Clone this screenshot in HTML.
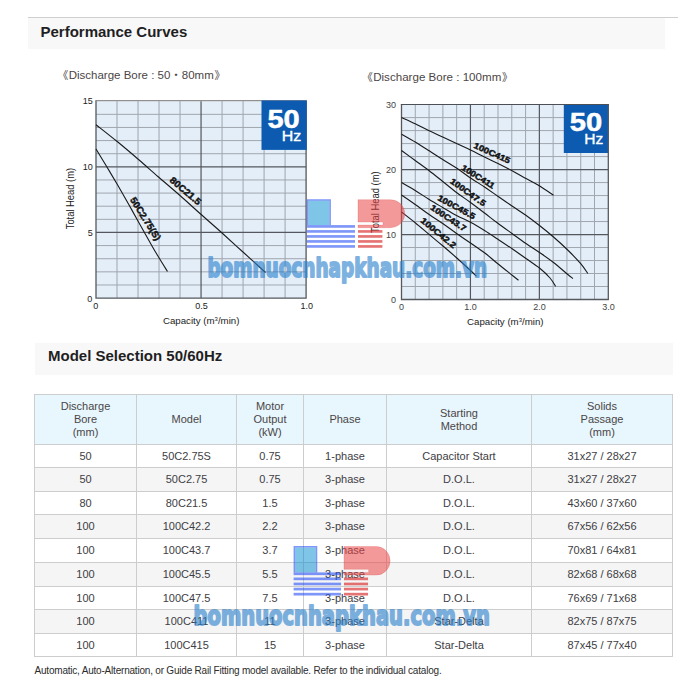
<!DOCTYPE html>
<html lang="en">
<head>
<meta charset="utf-8">
<title>Performance Curves</title>
<style>
html,body{margin:0;padding:0;background:#fff;}
body{width:700px;height:700px;position:relative;overflow:hidden;font-family:"Liberation Sans",Arial,sans-serif;color:#444;}
.rule{position:absolute;left:28px;top:17px;width:650px;height:1px;background:#cfcfcf;}
h2{position:absolute;margin:0;background:#f8f8f8;font-size:15px;font-weight:bold;color:#1f1f24;white-space:nowrap;box-sizing:border-box;}
h2.h1{left:28px;top:18px;width:637px;height:31px;padding:5px 0 0 13px;line-height:17px;text-indent:-0.5px;}
h2.h2{left:35px;top:343px;width:638px;height:32px;padding:4px 0 0 13px;line-height:17px;}
svg.charts{position:absolute;left:0;top:0;}
svg.wm{position:absolute;left:0;top:0;pointer-events:none;}
table.spec{position:absolute;left:34px;top:394px;border-collapse:collapse;table-layout:fixed;width:639px;font-size:11px;line-height:13px;color:#404044;}
table.spec th,table.spec td{border:1px solid #cdcdcd;padding:0;text-align:center;vertical-align:middle;font-weight:normal;}
table.spec th{background:#e8f6fe;color:#4a4646;}
table.spec tr.alt td{background:#f5f5f5;}
p.note{position:absolute;left:34.5px;top:664px;margin:0;font-size:10px;letter-spacing:-0.205px;line-height:14px;color:#2c2c2c;white-space:nowrap;}
</style>
</head>
<body>
<div class="rule"></div>
<h2 class="h1">Performance Curves</h2>
<svg class="charts" width="700" height="340" viewBox="0 0 700 340" font-family="'Liberation Sans',sans-serif">
<text x="68.40" y="78.80" font-size="10.8" fill="#4b4545" text-anchor="end" font-family="'Liberation Sans','Noto Sans CJK JP',sans-serif">《</text>
<text x="68.70" y="78.80" font-size="10.8" fill="#4b4545" font-family="'Liberation Sans','Noto Sans CJK JP',sans-serif" textLength="145.1" lengthAdjust="spacingAndGlyphs">Discharge Bore : 50・80mm</text>
<text x="214.60" y="78.80" font-size="10.8" fill="#4b4545" font-family="'Liberation Sans','Noto Sans CJK JP',sans-serif">》</text>
<text x="372.90" y="80.80" font-size="10.8" fill="#4b4545" text-anchor="end" font-family="'Liberation Sans','Noto Sans CJK JP',sans-serif">《</text>
<text x="373.20" y="80.80" font-size="10.8" fill="#4b4545" font-family="'Liberation Sans','Noto Sans CJK JP',sans-serif" textLength="128.1" lengthAdjust="spacingAndGlyphs">Discharge Bore : 100mm</text>
<text x="502.10" y="80.80" font-size="10.8" fill="#4b4545" font-family="'Liberation Sans','Noto Sans CJK JP',sans-serif">》</text>
<rect x="96.00" y="101.20" width="210.10" height="196.90" fill="#e4eef8"/>
<path d="M117.01 101.20V298.10M138.02 101.20V298.10M159.03 101.20V298.10M180.04 101.20V298.10M222.06 101.20V298.10M243.07 101.20V298.10M264.08 101.20V298.10M285.09 101.20V298.10" stroke="#878d96" stroke-width="0.75" fill="none"/>
<path d="M96.00 114.33H306.10M96.00 127.45H306.10M96.00 140.58H306.10M96.00 153.71H306.10M96.00 179.96H306.10M96.00 193.09H306.10M96.00 206.21H306.10M96.00 219.34H306.10M96.00 245.59H306.10M96.00 258.72H306.10M96.00 271.85H306.10M96.00 284.97H306.10" stroke="#a0a6ae" stroke-width="1" fill="none"/>
<path d="M201.05 101.20V298.10M96.00 166.83H306.10M96.00 232.47H306.10" stroke="#54585e" stroke-width="1.2" fill="none"/>
<path d="M96.00 100.70V298.10H306.10V100.70" fill="none" stroke="#55595e" stroke-width="1.3"/><path d="M95.35 100.70H306.75" fill="none" stroke="#7a7877" stroke-width="1.00"/>
<rect x="261.50" y="100.50" width="45.30" height="49.40" fill="#0d5bb0"/>
<text x="267.50" y="127.80" font-size="25" font-weight="bold" fill="#fff" stroke="#fff" stroke-width="0.5" textLength="32.2" lengthAdjust="spacingAndGlyphs">50</text>
<text x="281.80" y="141.20" font-size="14.2" fill="#fff" stroke="#fff" stroke-width="0.35" textLength="19.5" lengthAdjust="spacingAndGlyphs">Hz</text>
<path d="M96.00 124.70 C99.58 127.55 110.42 136.00 117.50 141.80 C124.58 147.60 131.67 153.63 138.50 159.50 C145.33 165.37 151.58 171.00 158.50 177.00 C165.42 183.00 173.08 189.42 180.00 195.50 C186.92 201.58 193.08 207.33 200.00 213.50 C206.92 219.67 214.25 226.00 221.50 232.50 C228.75 239.00 236.17 245.83 243.50 252.50 C250.83 259.17 261.83 269.17 265.50 272.50" stroke="#1a1a1a" stroke-width="1.1" fill="none"/>
<path d="M96.00 149.00 C97.80 151.97 103.22 160.83 106.80 166.80 C110.38 172.77 113.88 178.60 117.50 184.80 C121.12 191.00 125.00 197.80 128.50 204.00 C132.00 210.20 134.58 215.00 138.50 222.00 C142.42 229.00 148.67 240.17 152.00 246.00 C155.33 251.83 155.92 252.75 158.50 257.00 C161.08 261.25 166.00 269.08 167.50 271.50" stroke="#1a1a1a" stroke-width="1.1" fill="none"/>
<text transform="translate(169.00 181.30) rotate(40.0)" font-size="9.4" font-weight="bold" textLength="37.6" lengthAdjust="spacingAndGlyphs" fill="#111" stroke="#111" stroke-width="0.45">80C21.5</text>
<text transform="translate(129.70 199.80) rotate(57.7)" font-size="9.4" font-weight="bold" textLength="49.1" lengthAdjust="spacingAndGlyphs" fill="#111" stroke="#111" stroke-width="0.45">50C2.75(S)</text>
<text x="92.80" y="104.40" font-size="9" text-anchor="end" fill="#222">15</text>
<text x="92.80" y="170.20" font-size="9" text-anchor="end" fill="#222">10</text>
<text x="92.80" y="236.20" font-size="9" text-anchor="end" fill="#222">5</text>
<text x="92.30" y="302.20" font-size="9" text-anchor="end" fill="#222">0</text>
<text x="95.80" y="309.30" font-size="9" text-anchor="middle" fill="#222">0</text>
<text x="201.40" y="309.30" font-size="9" text-anchor="middle" fill="#222">0.5</text>
<text x="306.80" y="309.30" font-size="9" text-anchor="middle" fill="#222">1.0</text>
<text x="162.9" y="324" font-size="9.7" fill="#222">Capacity (m<tspan font-size="6" dy="-3.3">3</tspan><tspan dy="3.3">/min)</tspan></text>
<text transform="translate(74.4 229.3) rotate(-90)" font-size="10.3" fill="#222" textLength="61.4" lengthAdjust="spacingAndGlyphs">Total Head (m)</text>
<rect x="401.50" y="104.60" width="206.80" height="194.90" fill="#e4eef8"/>
<path d="M415.29 104.60V299.50M429.07 104.60V299.50M442.86 104.60V299.50M456.65 104.60V299.50M484.22 104.60V299.50M498.01 104.60V299.50M511.79 104.60V299.50M525.58 104.60V299.50M553.15 104.60V299.50M566.94 104.60V299.50M580.73 104.60V299.50M594.51 104.60V299.50" stroke="#878d96" stroke-width="0.75" fill="none"/>
<path d="M401.50 117.59H608.30M401.50 130.59H608.30M401.50 143.58H608.30M401.50 156.57H608.30M401.50 182.56H608.30M401.50 195.55H608.30M401.50 208.55H608.30M401.50 221.54H608.30M401.50 247.53H608.30M401.50 260.52H608.30M401.50 273.51H608.30M401.50 286.51H608.30" stroke="#a0a6ae" stroke-width="1" fill="none"/>
<path d="M470.43 104.60V299.50M539.37 104.60V299.50M401.50 169.57H608.30M401.50 234.53H608.30" stroke="#54585e" stroke-width="1.2" fill="none"/>
<rect x="563.80" y="104.10" width="44.80" height="48.90" fill="#0d5bb0"/>
<text x="569.80" y="130.80" font-size="25" font-weight="bold" fill="#fff" stroke="#fff" stroke-width="0.5" textLength="32.4" lengthAdjust="spacingAndGlyphs">50</text>
<text x="584.20" y="144.00" font-size="14.2" fill="#fff" stroke="#fff" stroke-width="0.35" textLength="19.0" lengthAdjust="spacingAndGlyphs">Hz</text>
<path d="M401.50 104.50V299.50H608.30V104.50" fill="none" stroke="#55595e" stroke-width="1.3"/><path d="M400.85 104.50H608.95" fill="none" stroke="#4c4f54" stroke-width="1.00"/>
<path d="M401.50 117.50 C403.78 118.55 410.58 121.58 415.20 123.80 C419.82 126.02 424.62 128.60 429.20 130.80 C433.78 133.00 438.15 134.88 442.70 137.00 C447.25 139.12 451.87 141.33 456.50 143.50 C461.13 145.67 465.83 147.75 470.50 150.00 C475.17 152.25 479.92 154.75 484.50 157.00 C489.08 159.25 493.33 161.17 498.00 163.50 C502.67 165.83 507.83 168.50 512.50 171.00 C517.17 173.50 521.53 176.03 526.00 178.50 C530.47 180.97 534.72 183.00 539.30 185.80 C543.88 188.60 551.13 193.72 553.50 195.30" stroke="#1a1a1a" stroke-width="1.1" fill="none"/>
<path d="M401.50 134.20 C403.78 135.50 410.58 139.23 415.20 142.00 C419.82 144.77 424.62 147.88 429.20 150.80 C433.78 153.72 438.15 156.63 442.70 159.50 C447.25 162.37 451.87 164.92 456.50 168.00 C461.13 171.08 465.83 174.83 470.50 178.00 C475.17 181.17 480.00 184.00 484.50 187.00 C489.00 190.00 492.92 192.83 497.50 196.00 C502.08 199.17 507.33 202.83 512.00 206.00 C516.67 209.17 520.92 211.75 525.50 215.00 C530.08 218.25 534.83 221.83 539.50 225.50 C544.17 229.17 548.88 233.00 553.50 237.00 C558.12 241.00 562.67 245.05 567.20 249.50 C571.73 253.95 577.27 259.70 580.70 263.70 C584.13 267.70 586.62 271.87 587.80 273.50" stroke="#1a1a1a" stroke-width="1.1" fill="none"/>
<path d="M401.50 150.50 C403.78 152.17 410.58 157.12 415.20 160.50 C419.82 163.88 424.62 167.30 429.20 170.80 C433.78 174.30 438.15 177.88 442.70 181.50 C447.25 185.12 451.87 189.00 456.50 192.50 C461.13 196.00 465.83 199.08 470.50 202.50 C475.17 205.92 480.00 209.58 484.50 213.00 C489.00 216.42 492.92 219.58 497.50 223.00 C502.08 226.42 507.25 230.08 512.00 233.50 C516.75 236.92 521.42 240.33 526.00 243.50 C530.58 246.67 534.92 249.33 539.50 252.50 C544.08 255.67 548.88 258.92 553.50 262.50 C558.12 266.08 563.95 271.33 567.20 274.00 C570.45 276.67 572.03 277.75 573.00 278.50" stroke="#1a1a1a" stroke-width="1.1" fill="none"/>
<path d="M401.50 182.50 C403.78 183.83 410.58 187.67 415.20 190.50 C419.82 193.33 424.62 196.67 429.20 199.50 C433.78 202.33 438.15 204.83 442.70 207.50 C447.25 210.17 451.87 213.03 456.50 215.50 C461.13 217.97 465.83 219.80 470.50 222.30 C475.17 224.80 480.00 227.72 484.50 230.50 C489.00 233.28 492.83 235.92 497.50 239.00 C502.17 242.08 507.75 245.75 512.50 249.00 C517.25 252.25 521.50 255.33 526.00 258.50 C530.50 261.67 535.50 264.75 539.50 268.00 C543.50 271.25 547.32 274.93 550.00 278.00 C552.68 281.07 554.67 285.00 555.60 286.40" stroke="#1a1a1a" stroke-width="1.1" fill="none"/>
<path d="M401.50 195.00 C403.78 196.58 410.58 201.25 415.20 204.50 C419.82 207.75 424.62 211.33 429.20 214.50 C433.78 217.67 438.13 220.33 442.70 223.50 C447.27 226.67 451.97 230.25 456.60 233.50 C461.23 236.75 465.85 239.80 470.50 243.00 C475.15 246.20 480.00 249.28 484.50 252.70 C489.00 256.12 492.83 259.70 497.50 263.50 C502.17 267.30 509.00 272.70 512.50 275.50 C516.00 278.30 517.50 279.50 518.50 280.30" stroke="#1a1a1a" stroke-width="1.1" fill="none"/>
<path d="M401.50 212.00 C403.78 213.80 410.55 219.02 415.20 222.80 C419.85 226.58 424.77 230.83 429.40 234.70 C434.03 238.57 438.43 242.12 443.00 246.00 C447.57 249.88 452.22 253.92 456.80 258.00 C461.38 262.08 467.22 267.47 470.50 270.50 C473.78 273.53 475.50 275.25 476.50 276.20" stroke="#1a1a1a" stroke-width="1.1" fill="none"/>
<text transform="translate(473.00 147.50) rotate(24.3)" font-size="8.3" font-weight="bold" textLength="39.2" lengthAdjust="spacingAndGlyphs" fill="#111" stroke="#111" stroke-width="0.45">100C415</text>
<text transform="translate(460.80 169.20) rotate(32.0)" font-size="8.3" font-weight="bold" textLength="37.4" lengthAdjust="spacingAndGlyphs" fill="#111" stroke="#111" stroke-width="0.45">100C411</text>
<text transform="translate(449.50 182.50) rotate(35.6)" font-size="8.3" font-weight="bold" textLength="41.5" lengthAdjust="spacingAndGlyphs" fill="#111" stroke="#111" stroke-width="0.45">100C47.5</text>
<text transform="translate(436.90 199.70) rotate(28.4)" font-size="8.3" font-weight="bold" textLength="41.6" lengthAdjust="spacingAndGlyphs" fill="#111" stroke="#111" stroke-width="0.45">100C45.5</text>
<text transform="translate(429.80 209.00) rotate(33.5)" font-size="8.3" font-weight="bold" textLength="40.9" lengthAdjust="spacingAndGlyphs" fill="#111" stroke="#111" stroke-width="0.45">100C43.7</text>
<text transform="translate(420.00 221.50) rotate(39.3)" font-size="8.3" font-weight="bold" textLength="42.9" lengthAdjust="spacingAndGlyphs" fill="#111" stroke="#111" stroke-width="0.45">100C42.2</text>
<text x="396.00" y="107.60" font-size="9" text-anchor="end" fill="#444">30</text>
<text x="396.00" y="172.90" font-size="9" text-anchor="end" fill="#444">20</text>
<text x="396.00" y="238.00" font-size="9" text-anchor="end" fill="#444">10</text>
<text x="396.00" y="303.00" font-size="9" text-anchor="end" fill="#444">0</text>
<text x="401.40" y="310.30" font-size="9" text-anchor="middle" fill="#444">0</text>
<text x="470.40" y="310.30" font-size="9" text-anchor="middle" fill="#444">1.0</text>
<text x="539.40" y="310.30" font-size="9" text-anchor="middle" fill="#444">2.0</text>
<text x="608.40" y="310.30" font-size="9" text-anchor="middle" fill="#444">3.0</text>
<text x="467" y="325" font-size="9.7" fill="#222">Capacity (m<tspan font-size="6" dy="-3.3">3</tspan><tspan dy="3.3">/min)</tspan></text>
<text transform="translate(378.6 232.9) rotate(-90)" font-size="10.3" fill="#222" textLength="61.5" lengthAdjust="spacingAndGlyphs">Total Head (m)</text>
</svg>
<h2 class="h2">Model Selection 50/60Hz</h2>
<table class="spec"><colgroup><col style="width:102px"><col style="width:100px"><col style="width:67px"><col style="width:83px"><col style="width:145px"><col style="width:141px"></colgroup>
<thead><tr style="height:50px"><th>Discharge<br>Bore<br>(mm)</th><th>Model</th><th>Motor<br>Output<br>(kW)</th><th>Phase</th><th>Starting<br>Method</th><th>Solids<br>Passage<br>(mm)</th></tr></thead><tbody>
<tr style="height:23px"><td>50</td><td>50C2.75S</td><td>0.75</td><td>1-phase</td><td>Capacitor Start</td><td>31x27 / 28x27</td></tr>
<tr style="height:24px" class="alt"><td>50</td><td>50C2.75</td><td>0.75</td><td>3-phase</td><td>D.O.L.</td><td>31x27 / 28x27</td></tr>
<tr style="height:23px"><td>80</td><td>80C21.5</td><td>1.5</td><td>3-phase</td><td>D.O.L.</td><td>43x60 / 37x60</td></tr>
<tr style="height:24px" class="alt"><td>100</td><td>100C42.2</td><td>2.2</td><td>3-phase</td><td>D.O.L.</td><td>67x56 / 62x56</td></tr>
<tr style="height:24px"><td>100</td><td>100C43.7</td><td>3.7</td><td>3-phase</td><td>D.O.L.</td><td>70x81 / 64x81</td></tr>
<tr style="height:24px" class="alt"><td>100</td><td>100C45.5</td><td>5.5</td><td>3-phase</td><td>D.O.L.</td><td>82x68 / 68x68</td></tr>
<tr style="height:23px"><td>100</td><td>100C47.5</td><td>7.5</td><td>3-phase</td><td>D.O.L.</td><td>76x69 / 71x68</td></tr>
<tr style="height:24px" class="alt"><td>100</td><td>100C411</td><td>11</td><td>3-phase</td><td>Star-Delta</td><td>82x75 / 87x75</td></tr>
<tr style="height:23px"><td>100</td><td>100C415</td><td>15</td><td>3-phase</td><td>Star-Delta</td><td>87x45 / 77x40</td></tr>
</tbody></table>
<p class="note">Automatic, Auto-Alternation, or Guide Rail Fitting model available. Refer to the individual catalog.</p>
<svg class="wm" width="700" height="700" viewBox="0 0 700 700">
<g transform="translate(306.90 199.20) scale(1.000 1.000)">
<rect x="1.5" y="1.5" width="21" height="24.4" fill="#008cd2" fill-opacity="0.5"/>
<path d="M0 0H24V25.9H0ZM1.5 1.5V25.9H22.5V1.5Z" fill="#2850f5" fill-opacity="0.6" fill-rule="evenodd"/>
<rect x="0.00" y="25.90" width="48.10" height="2.65" fill="#2850f5" fill-opacity="0.6"/>
<rect x="0.00" y="30.90" width="48.10" height="2.65" fill="#2850f5" fill-opacity="0.6"/>
<rect x="0.00" y="35.90" width="48.10" height="2.65" fill="#2850f5" fill-opacity="0.6"/>
<rect x="0.00" y="40.90" width="48.10" height="2.65" fill="#2850f5" fill-opacity="0.6"/>
<rect x="0.00" y="45.90" width="48.10" height="2.65" fill="#2850f5" fill-opacity="0.6"/>
<path d="M51.1 0.5H83.6A14.3 14 0 0 1 83.6 28.5H51.1V25.9H76.1V22.9H51.1Z" fill="#eb4646" fill-opacity="0.55" stroke="#d83c3c" stroke-opacity="0.35" stroke-width="0.6"/>
<rect x="51.1" y="30.90" width="24.4" height="2.65" fill="#d72828" fill-opacity="0.65"/>
<rect x="51.1" y="35.90" width="24.4" height="2.65" fill="#d72828" fill-opacity="0.65"/>
<rect x="51.1" y="40.90" width="24.4" height="2.65" fill="#d72828" fill-opacity="0.65"/>
<rect x="51.1" y="45.90" width="24.4" height="2.65" fill="#d72828" fill-opacity="0.65"/>
</g>
<text x="207.40" y="277.00" font-family="'DejaVu Sans','Liberation Sans',sans-serif" font-weight="bold" font-size="26" fill="#2880cd" stroke="#2880cd" stroke-width="1.9" stroke-linejoin="round" opacity="0.6" textLength="279.8" lengthAdjust="spacingAndGlyphs">bomnuocnhapkhau.com.vn</text>
<g transform="translate(293.60 546.00) scale(0.986 1.020)">
<rect x="1.5" y="1.5" width="21" height="24.4" fill="#008cd2" fill-opacity="0.5"/>
<path d="M0 0H24V25.9H0ZM1.5 1.5V25.9H22.5V1.5Z" fill="#2850f5" fill-opacity="0.6" fill-rule="evenodd"/>
<rect x="0.00" y="25.90" width="48.10" height="2.65" fill="#2850f5" fill-opacity="0.6"/>
<rect x="0.00" y="30.90" width="48.10" height="2.65" fill="#2850f5" fill-opacity="0.6"/>
<rect x="0.00" y="35.90" width="48.10" height="2.65" fill="#2850f5" fill-opacity="0.6"/>
<rect x="0.00" y="40.90" width="48.10" height="2.65" fill="#2850f5" fill-opacity="0.6"/>
<rect x="0.00" y="45.90" width="48.10" height="2.65" fill="#2850f5" fill-opacity="0.6"/>
<path d="M51.1 0.5H83.6A14.3 14 0 0 1 83.6 28.5H51.1V25.9H76.1V22.9H51.1Z" fill="#eb4646" fill-opacity="0.55" stroke="#d83c3c" stroke-opacity="0.35" stroke-width="0.6"/>
<rect x="51.1" y="30.90" width="24.4" height="2.65" fill="#d72828" fill-opacity="0.65"/>
<rect x="51.1" y="35.90" width="24.4" height="2.65" fill="#d72828" fill-opacity="0.65"/>
<rect x="51.1" y="40.90" width="24.4" height="2.65" fill="#d72828" fill-opacity="0.65"/>
<rect x="51.1" y="45.90" width="24.4" height="2.65" fill="#d72828" fill-opacity="0.65"/>
</g>
<text x="193.50" y="625.30" font-family="'DejaVu Sans','Liberation Sans',sans-serif" font-weight="bold" font-size="26" fill="#2880cd" stroke="#2880cd" stroke-width="1.9" stroke-linejoin="round" opacity="0.6" textLength="296.3" lengthAdjust="spacingAndGlyphs">bomnuocnhapkhau.com.vn</text>
</svg>
</body>
</html>
